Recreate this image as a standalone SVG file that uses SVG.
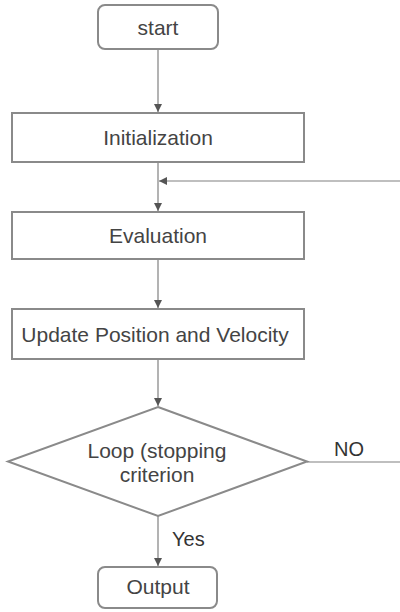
<svg xmlns="http://www.w3.org/2000/svg" width="400" height="612" viewBox="0 0 400 612">
<style>
.box{fill:#fff;stroke:#8a8a8a;stroke-width:2}
.lbl{font-family:"Liberation Sans",Arial,sans-serif;font-size:21px;fill:#444;text-anchor:middle}
.edge{fill:none;stroke:#808080;stroke-width:1.2}
.elbl{font-family:"Liberation Sans",Arial,sans-serif;font-size:20px;fill:#333}
</style>
<defs>
<marker id="arr" viewBox="0 0 8 8" refX="8" refY="4" markerWidth="8" markerHeight="8" markerUnits="userSpaceOnUse" orient="auto">
<path d="M0,0 L8,4 L0,8 Z" fill="#555"/>
</marker>
</defs>
<rect width="400" height="612" fill="#fff"/>
<g id="connectors">
<path class="edge" d="M158,49 V112" marker-end="url(#arr)"/>
<path class="edge" d="M158,162 V211" marker-end="url(#arr)"/>
<path class="edge" d="M158,259 V308" marker-end="url(#arr)"/>
<path class="edge" d="M158,359 V406" marker-end="url(#arr)"/>
<path class="edge" d="M158,516 V566" marker-end="url(#arr)"/>
<path class="edge" d="M307,462 H404 V181 H159" marker-end="url(#arr)"/>
<text class="elbl" x="334" y="456">NO</text>
<text class="elbl" x="172" y="546">Yes</text>
</g>
<g id="start">
<rect class="box" x="98" y="5" width="120" height="44" rx="7"/>
<text class="lbl" x="158" y="35">start</text>
</g>
<g id="initialization">
<rect class="box" x="12" y="113" width="292" height="49"/>
<text class="lbl" x="158" y="145">Initialization</text>
</g>
<g id="evaluation">
<rect class="box" x="12" y="212" width="292" height="47"/>
<text class="lbl" x="158" y="243">Evaluation</text>
</g>
<g id="update">
<rect class="box" x="12" y="309" width="292" height="50"/>
<text class="lbl" x="155" y="342">Update Position and Velocity</text>
</g>
<g id="loop">
<polygon class="box" points="158,407 307,461.5 158,516 8,461.5"/>
<text class="lbl" x="157" y="458">Loop (stopping</text>
<text class="lbl" x="157" y="482">criterion</text>
</g>
<g id="output">
<rect class="box" x="98" y="567" width="119" height="41" rx="7"/>
<text class="lbl" x="158" y="594">Output</text>
</g>
</svg>
